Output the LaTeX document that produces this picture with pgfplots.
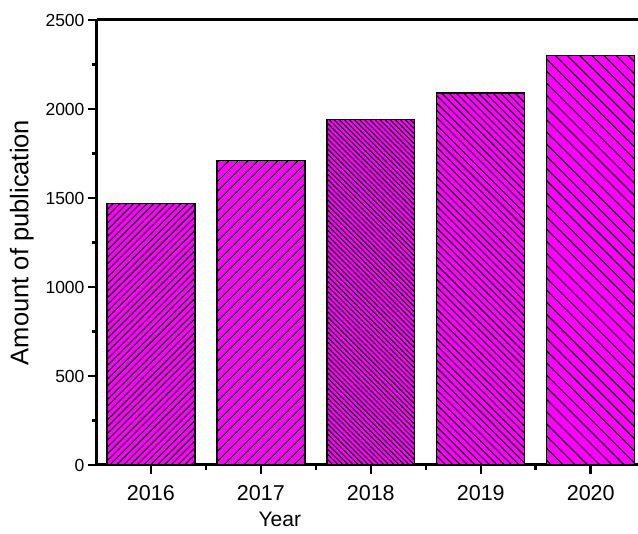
\documentclass[border=0pt]{standalone}
\usepackage{fontspec}
\setmainfont{Liberation Sans}
\usepackage{pgfplots}
\pgfplotsset{compat=1.18}
\usetikzlibrary{patterns.meta}
\definecolor{mag}{RGB}{255,0,255}
\begin{document}
\begin{tikzpicture}
\useasboundingbox (-97pt,-69pt) rectangle (541pt,465pt);
\begin{axis}[
  at={(0pt,0pt)}, anchor=south west,
  scale only axis, width=541pt, height=445pt,
  xmin=-0.49, xmax=4.43, ymin=0, ymax=2500,
  axis lines=left, axis line style={-, line width=3pt},
  tick align=outside,
  xtick={0,1,2,3,4},
  xticklabels={2016,2017,2018,2019,2020},
  ytick={0,500,1000,1500,2000,2500},
  minor x tick num=1, minor y tick num=1,
  major tick length=9pt, minor tick length=5pt,
  every tick/.style={black, line width=2.5pt},
  ybar, bar width=0.8, bar shift=0pt,
  /pgf/number format/assume math mode=true,
  /pgf/number format/1000 sep={},
  y tick label style={font=\fontsize{17.5}{17.5}\selectfont},
  x tick label style={font=\fontsize{21.5}{21.5}\selectfont, yshift=-8pt},
  ylabel={Amount of publication},
  xlabel={Year},
  ylabel style={font=\fontsize{25.5}{25.5}\selectfont, at={(axis description cs:-0.139,0.5)}, anchor=center},
  xlabel style={font=\fontsize{21}{21}\selectfont, inner sep=0pt, at={(axis description cs:0.338,-0.123)}, anchor=center},
  clip=false,
]
\addplot[fill=mag, draw=black, line width=1.4pt, postaction={pattern={Lines[angle=45,distance=4.8pt,line width=1.1pt]}}] coordinates {(0,1470)};
\addplot[fill=mag, draw=black, line width=1.4pt, postaction={pattern={Lines[angle=45,distance=6.9pt,line width=1.1pt]}}] coordinates {(1,1710)};
\addplot[fill=mag, draw=black, line width=1.4pt, postaction={pattern={Lines[angle=-45,distance=3.6pt,line width=1.1pt]}}] coordinates {(2,1940)};
\addplot[fill=mag, draw=black, line width=1.4pt, postaction={pattern={Lines[angle=-45,distance=5.2pt,line width=1.1pt]}}] coordinates {(3,2090)};
\addplot[fill=mag, draw=black, line width=1.4pt, postaction={pattern={Lines[angle=-45,distance=8.6pt,line width=1.1pt]}}] coordinates {(4,2300)};
\draw[line width=3pt] (rel axis cs:0,1) -- (rel axis cs:1.02,1);
\end{axis}
\end{tikzpicture}
\end{document}
